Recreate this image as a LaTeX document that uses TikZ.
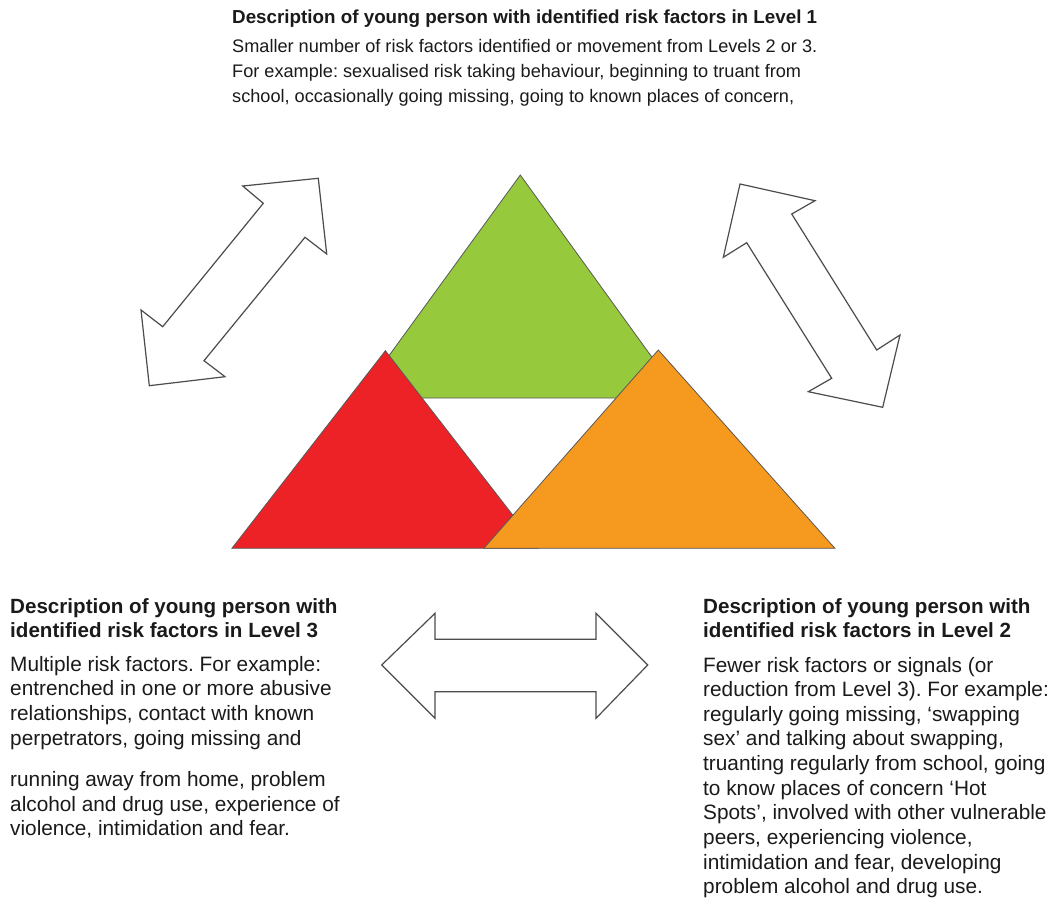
\documentclass[tikz,border=0pt]{standalone}
\usepackage{fontspec}
\setmainfont{Liberation Sans}
\definecolor{trigreen}{HTML}{97C93D}
\definecolor{trired}{HTML}{EC2227}
\definecolor{triorange}{HTML}{F6991F}
\definecolor{txt}{HTML}{1A1A1A}
\begin{document}
\frenchspacing
\begin{tikzpicture}[x=1pt,y=-1pt,
  tri/.style={draw=black!65, line width=0.8pt, line join=miter},
  bigarrow/.style={draw=black!70, fill=white, line width=1.2pt, line join=miter},
  toph/.style={anchor=base west, inner sep=0pt, text=txt, font=\fontsize{18.8}{22}\selectfont\bfseries},
  topb/.style={anchor=base west, inner sep=0pt, text=txt, font=\fontsize{18.15}{22}\selectfont},
  both/.style={anchor=base west, inner sep=0pt, text=txt, font=\fontsize{20.6}{24}\selectfont\bfseries},
  botb/.style={anchor=base west, inner sep=0pt, text=txt, font=\fontsize{20.8}{24}\selectfont}]
\useasboundingbox (0,0) rectangle (1050,920);
\fill[white] (0,0) rectangle (1050,920);

% triangles
\draw[tri, fill=trigreen] (520.3,175) -- (681.4,398) -- (358.2,398) -- cycle;
\draw[tri, fill=trired] (385.4,350.7) -- (538.5,548.3) -- (231.9,548.3) -- cycle;
\draw[tri, fill=triorange] (658.3,350) -- (834.9,548.3) -- (483.8,548.3) -- cycle;

% double arrows
\draw[bigarrow] (318.3,178.3) -- (326.7,254) -- (305,237.3) -- (204,360.7) -- (225,376.7) -- (149.3,385.7) -- (141,310) -- (162.7,326.7) -- (263.3,203.3) -- (242.7,186) -- cycle;
\draw[bigarrow] (740,184) -- (815,200.7) -- (791.7,214) -- (876.7,350) -- (900,335) -- (882.7,407.3) -- (808.3,391.7) -- (831.7,378.3) -- (746.7,242.7) -- (723.3,257.3) -- cycle;
\draw[bigarrow] (381.7,665) -- (435,613.3) -- (435,639.3) -- (596,639.3) -- (596,613.3) -- (647.7,665) -- (596,718.3) -- (596,691.7) -- (435,691.7) -- (435,718.3) -- cycle;

% top text
\node[toph] (toph) at (232,24) {Description of young person with identified risk factors in Level 1};
\foreach \t [count=\i from 0] in {{Smaller number of risk factors identified or movement from Levels 2 or 3.},{For example: sexualised risk taking behaviour, beginning to truant from},{school, occasionally going missing, going to known places of concern,}}
  \node[topb] (top\i) at (232,{53+25*\i}) {\t};

% bottom left
\node[both] (lh1) at (10,613) {Description of young person with};
\node[both] (lh2) at (10,637.5) {identified risk factors in Level 3};
\foreach \t [count=\i from 0] in {{Multiple risk factors. For example:},{entrenched in one or more abusive},{relationships, contact with known},{perpetrators, going missing and}}
  \node[botb] (la\i) at (10,{671+24.7*\i}) {\t};
\foreach \t [count=\i from 0] in {{running away from home, problem},{alcohol and drug use, experience of},{violence, intimidation and fear.}}
  \node[botb] (lb\i) at (10,{786.5+24.7*\i}) {\t};

% bottom right
\node[both] (rh1) at (703,613) {Description of young person with};
\node[both] (rh2) at (703,637.5) {identified risk factors in Level 2};
\foreach \t [count=\i from 0] in {{Fewer risk factors or signals (or},{reduction from Level 3). For example:},{regularly going missing, ‘swapping},{sex’ and talking about swapping,},{truanting regularly from school, going},{to know places of concern ‘Hot},{Spots’, involved with other vulnerable},{peers, experiencing violence,},{intimidation and fear, developing},{problem alcohol and drug use.}}
  \node[botb] (ra\i) at (703,{672+24.65*\i}) {\t};
\end{tikzpicture}
\end{document}
